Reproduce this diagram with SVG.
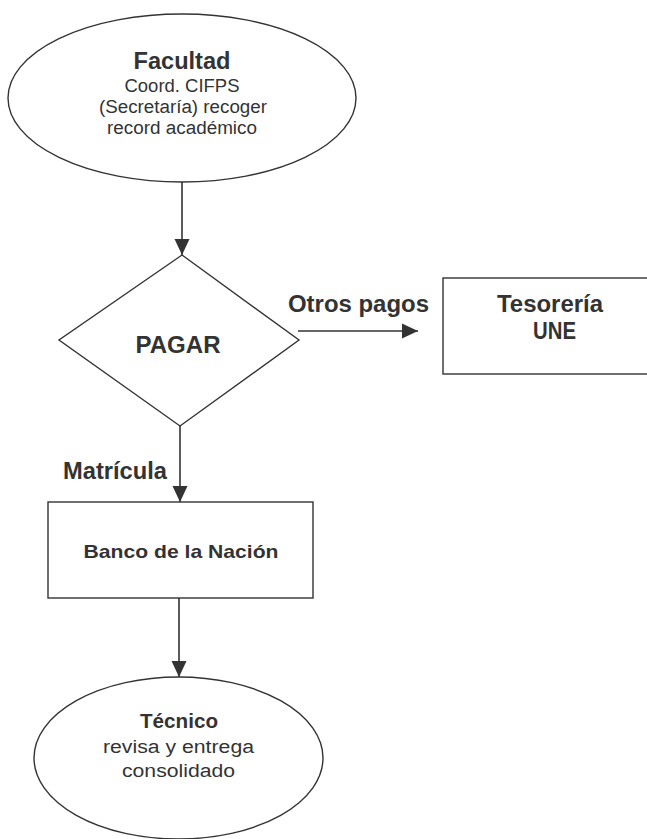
<svg xmlns="http://www.w3.org/2000/svg" width="647" height="839" viewBox="0 0 647 839">
<defs>
<style>
.shape{fill:#fff;stroke:#333;stroke-width:1.4}
.conn{stroke:#333;stroke-width:1.6;fill:none}
.b{font-family:"Liberation Sans",Arial,sans-serif;font-weight:bold;fill:#333;text-anchor:middle;font-size:23.5px}
.r{font-family:"Liberation Sans",Arial,sans-serif;fill:#333;text-anchor:middle;font-size:18px}
.bs{font-family:"Liberation Sans",Arial,sans-serif;font-weight:bold;fill:#333;text-anchor:middle;font-size:19px}
</style>
<marker id="arr" viewBox="0 0 16 16" refX="16" refY="8" markerWidth="16" markerHeight="16" markerUnits="userSpaceOnUse" orient="auto">
<path d="M0,0.5 L16,8 L0,15.5 Z" fill="#333"/>
</marker>
</defs>
<rect width="647" height="839" fill="#fff"/>
<g id="connectors">
<line class="conn" x1="182" y1="182" x2="182" y2="255" marker-end="url(#arr)"/>
<line class="conn" x1="298" y1="331" x2="418" y2="331" marker-end="url(#arr)"/>
<line class="conn" x1="180" y1="426" x2="180" y2="502" marker-end="url(#arr)"/>
<line class="conn" x1="179" y1="598" x2="179" y2="677" marker-end="url(#arr)"/>
<text class="b" x="358.5" y="312" textLength="141" lengthAdjust="spacingAndGlyphs">Otros pagos</text>
<text class="b" x="115" y="479" textLength="104" lengthAdjust="spacingAndGlyphs">Matrícula</text>
</g>
<g id="facultad">
<ellipse class="shape" cx="182" cy="98" rx="174" ry="84"/>
<text class="b" x="182" y="69" textLength="97" lengthAdjust="spacingAndGlyphs">Facultad</text>
<text class="r" x="182" y="92" textLength="115" lengthAdjust="spacingAndGlyphs">Coord. CIFPS</text>
<text class="r" x="183" y="113" textLength="168" lengthAdjust="spacingAndGlyphs">(Secretaría) recoger</text>
<text class="r" x="182" y="134" textLength="150" lengthAdjust="spacingAndGlyphs">record académico</text>
</g>
<g id="pagar">
<polygon class="shape" points="182,255 299,340 180,426 59,340"/>
<text class="b" x="178" y="353" textLength="85" lengthAdjust="spacingAndGlyphs">PAGAR</text>
</g>
<g id="tesoreria">
<rect class="shape" x="443" y="278" width="215" height="96"/>
<text class="b" x="550" y="312" textLength="106" lengthAdjust="spacingAndGlyphs">Tesorería</text>
<text class="b" x="554.5" y="339" textLength="43" lengthAdjust="spacingAndGlyphs">UNE</text>
</g>
<g id="banco">
<rect class="shape" x="48" y="502" width="265" height="96"/>
<text class="bs" x="181" y="558" textLength="195" lengthAdjust="spacingAndGlyphs">Banco de la Nación</text>
</g>
<g id="tecnico">
<ellipse class="shape" cx="178.5" cy="758" rx="144.5" ry="81"/>
<text class="b" style="font-size:21px" x="179" y="728" textLength="78" lengthAdjust="spacingAndGlyphs">Técnico</text>
<text class="r" x="178.5" y="753" textLength="151" lengthAdjust="spacingAndGlyphs">revisa y entrega</text>
<text class="r" x="178.5" y="777" textLength="113" lengthAdjust="spacingAndGlyphs">consolidado</text>
</g>
</svg>
